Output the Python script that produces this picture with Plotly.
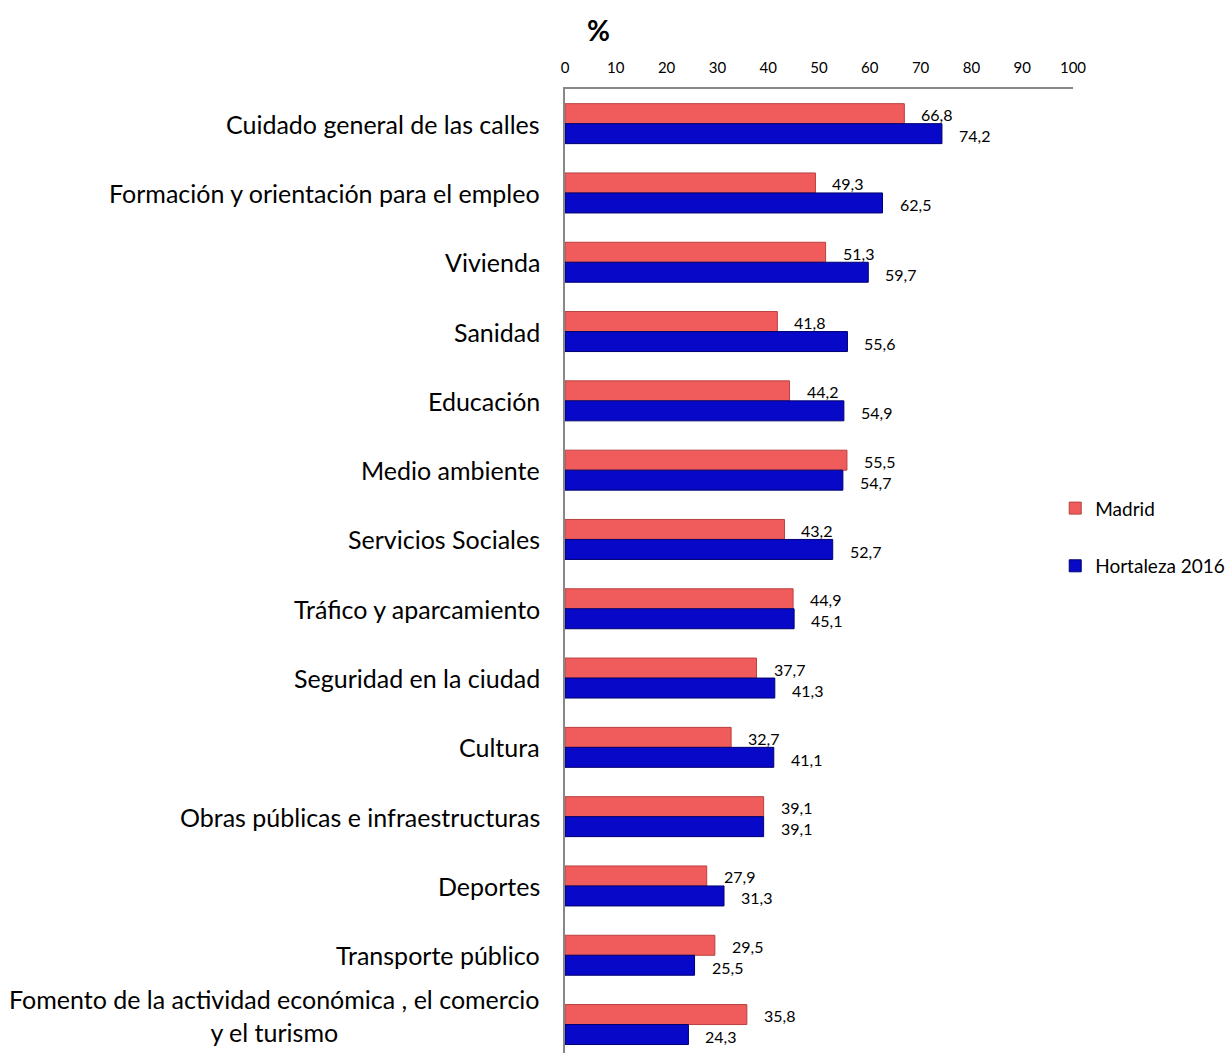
import plotly.graph_objects as go

categories = [
    "Cuidado general de las calles",
    "Formación y orientación para el empleo",
    "Vivienda",
    "Sanidad",
    "Educación",
    "Medio ambiente",
    "Servicios Sociales",
    "Tráfico y aparcamiento",
    "Seguridad en la ciudad",
    "Cultura",
    "Obras públicas e infraestructuras",
    "Deportes",
    "Transporte público",
    "Fomento de la actividad económica , el comercio<br>y el turismo",
]
madrid = [66.8, 49.3, 51.3, 41.8, 44.2, 55.5, 43.2, 44.9, 37.7, 32.7, 39.1, 27.9, 29.5, 35.8]
hortaleza = [74.2, 62.5, 59.7, 55.6, 54.9, 54.7, 52.7, 45.1, 41.3, 41.1, 39.1, 31.3, 25.5, 24.3]
series_names = ["Madrid", "Hortaleza 2016"]
x_ticks = [0, 10, 20, 30, 40, 50, 60, 70, 80, 90, 100]
axis_title = "%"

FONT = "Lato"
ypos = list(range(len(categories)))

fig = go.Figure()
fig.add_trace(go.Bar(
    y=ypos, x=madrid, orientation="h", name=series_names[0],
    marker=dict(color="#F05C5C", line=dict(color="#B84040", width=1)),
    legendgroup="a",
))
fig.add_trace(go.Bar(
    y=ypos, x=hortaleza, orientation="h", name=series_names[1],
    marker=dict(color="#0808C8", line=dict(color="#00006E", width=1)),
    legendgroup="b",
))

off = 0.1443
annotations = []
# category labels
for i, c in enumerate(categories):
    multi = "<br>" in c
    annotations.append(dict(x=0, y=i, xref="paper", yref="y", text=c, showarrow=False,
                            xanchor="right", yanchor="middle", align="center", xshift=-23,
                            yshift=9 if multi else 0,
                            font=dict(family=FONT, size=25, color="#000")))
for i, v in enumerate(madrid):
    annotations.append(dict(x=v, y=i - off, xref="x", yref="y", text=f"{v:.1f}".replace(".", ","),
                            showarrow=False, xanchor="left", xshift=15, yshift=-1,
                            font=dict(family=FONT, size=16, color="#000")))
for i, v in enumerate(hortaleza):
    annotations.append(dict(x=v, y=i + off, xref="x", yref="y", text=f"{v:.1f}".replace(".", ","),
                            showarrow=False, xanchor="left", xshift=15, yshift=-2,
                            font=dict(family=FONT, size=16, color="#000")))
annotations.append(dict(x=0.065, y=1 + (89 - 30) / (1053 - 89), xref="paper", yref="paper",
                        xanchor="center", yanchor="middle", text=f"<b>{axis_title}</b>",
                        showarrow=False, font=dict(family=FONT, size=28, color="#000")))

fig.update_layout(
    width=1232, height=1053,
    margin=dict(l=565, r=159, t=89, b=0),
    paper_bgcolor="white", plot_bgcolor="white",
    barmode="group", bargap=0.423, bargroupgap=0,
    font=dict(family=FONT, color="#000"),
    showlegend=True,
    legend=dict(x=0.965, xref="paper", y=0.535, yanchor="middle", traceorder="grouped",
                tracegroupgap=30, font=dict(family=FONT, size=19), itemwidth=30),
    annotations=annotations,
)

fig.update_xaxes(range=[0, 100], side="top", tickvals=x_ticks, showgrid=False, zeroline=False,
                 showline=True, linecolor="#888888", linewidth=1.5, ticks="",
                 tickfont=dict(family=FONT, size=15, color="#000"), ticklabelstandoff=8)
fig.update_yaxes(range=[-0.5 + (1053 - 89) / 69.3, -0.5], tickvals=ypos, showticklabels=False,
                 showgrid=False, zeroline=False, showline=True, linecolor="#888888", linewidth=1.5,
                 ticks="")

fig.write_html("out.html", config={"displayModeBar": False},
               post_script="document.body.style.margin='0';")
